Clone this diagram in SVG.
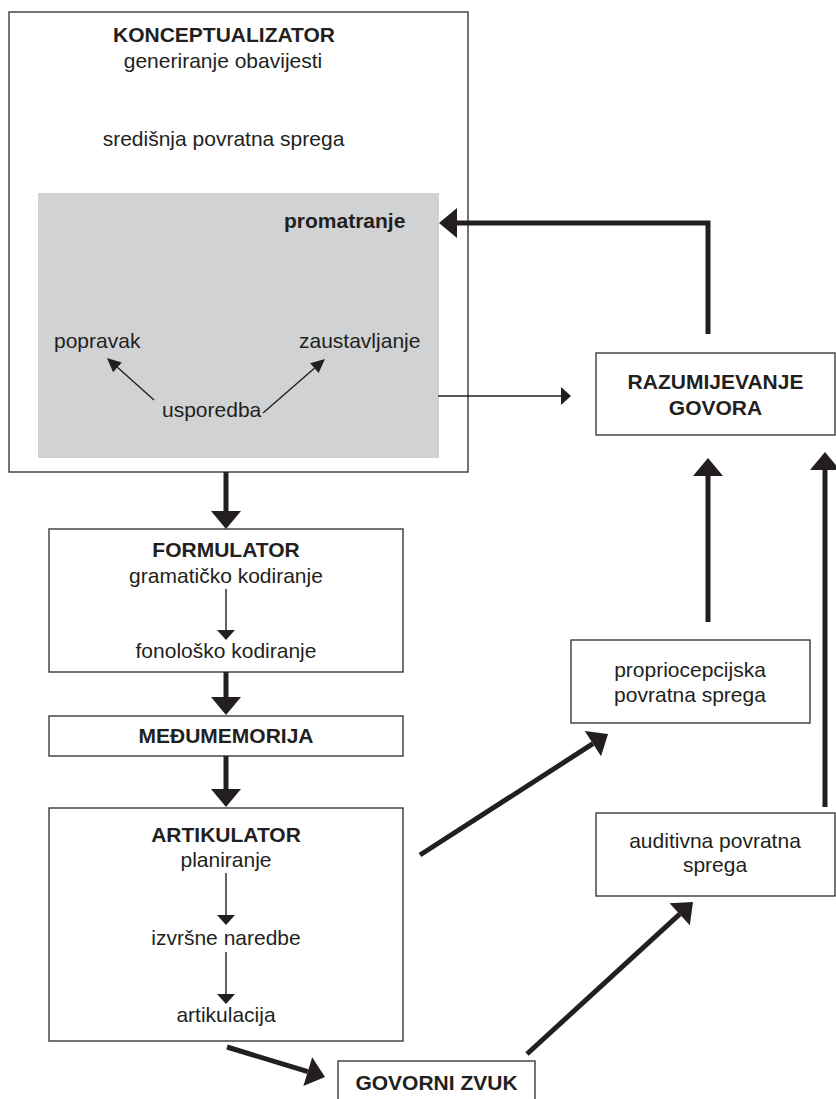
<svg xmlns="http://www.w3.org/2000/svg" width="836" height="1099" viewBox="0 0 836 1099">
<style>
text{font-family:"Liberation Sans",Arial,Helvetica,sans-serif;font-size:21px;fill:#231f20}
.b{font-weight:bold}
.m{text-anchor:middle}
.box{fill:#fff;stroke:#3a3a3a;stroke-width:1.4}
.thick{fill:none;stroke:#231f20;stroke-width:5}
.thin{fill:none;stroke:#231f20;stroke-width:1.4}
</style>
<defs>
<marker id="big" markerUnits="userSpaceOnUse" markerWidth="20" markerHeight="30" refX="0" refY="15" orient="auto" overflow="visible"><path d="M0,0 L18,15 L0,30 Z" fill="#231f20"/></marker>
<marker id="small" markerUnits="userSpaceOnUse" markerWidth="11" markerHeight="18" refX="0" refY="9" orient="auto" overflow="visible"><path d="M0,0 L10,9 L0,18 Z" fill="#231f20"/></marker>
<marker id="slim" markerUnits="userSpaceOnUse" markerWidth="15" markerHeight="13" refX="0" refY="6.5" orient="auto" overflow="visible"><path d="M0,0 L14,6.5 L0,13 Z" fill="#231f20"/></marker>
</defs>

<g id="konceptualizator">
<rect class="box" x="9" y="12" width="459" height="460"/>
<text class="b m" x="224" y="42">KONCEPTUALIZATOR</text>
<text class="m" x="223" y="68">generiranje obavijesti</text>
<text class="m" x="223.5" y="146">središnja povratna sprega</text>
</g>
<g id="promatranje">
<rect x="38" y="193" width="401" height="265" fill="#d1d2d4"/>
<text class="b" x="284" y="228">promatranje</text>
<text x="54" y="348">popravak</text>
<text x="299" y="348">zaustavljanje</text>
<text x="162" y="417">usporedba</text>
</g>
<g id="formulator">
<rect class="box" x="49" y="529" width="354" height="143"/>
<text class="b m" x="226" y="557">FORMULATOR</text>
<text class="m" x="226" y="583">gramatičko kodiranje</text>
<text class="m" x="226" y="658">fonološko kodiranje</text>
</g>
<g id="medumemorija">
<rect class="box" x="49" y="716" width="354" height="40"/>
<text class="b m" x="226" y="743">MEĐUMEMORIJA</text>
</g>
<g id="artikulator">
<rect class="box" x="49" y="808" width="354" height="233"/>
<text class="b m" x="226" y="842">ARTIKULATOR</text>
<text class="m" x="226" y="867">planiranje</text>
<text class="m" x="226" y="945">izvršne naredbe</text>
<text class="m" x="226" y="1022">artikulacija</text>
</g>
<g id="govorni-zvuk">
<rect class="box" x="338" y="1061" width="197" height="50"/>
<text class="b m" x="436.5" y="1090">GOVORNI ZVUK</text>
</g>
<g id="razumijevanje">
<rect class="box" x="596" y="353" width="239" height="82"/>
<text class="b m" x="715.5" y="389">RAZUMIJEVANJE</text>
<text class="b m" x="715.5" y="415">GOVORA</text>
</g>
<g id="propriocepcijska">
<rect class="box" x="571" y="640" width="239" height="83"/>
<text class="m" x="690" y="677">propriocepcijska</text>
<text class="m" x="690" y="702">povratna sprega</text>
</g>
<g id="auditivna">
<rect class="box" x="596" y="813" width="239" height="83"/>
<text class="m" x="715" y="848">auditivna povratna</text>
<text class="m" x="715" y="872">sprega</text>
</g>

<g id="connectors">
<path class="thin" d="M154,400 L117.4,367.3" marker-end="url(#slim)"/>
<path class="thin" d="M263,413 L314.4,368.2" marker-end="url(#slim)"/>
<path class="thin" d="M438,396 H561" marker-end="url(#small)"/>
<path class="thin" d="M226,589 V630" marker-end="url(#small)"/>
<path class="thin" d="M226,873 V915" marker-end="url(#small)"/>
<path class="thin" d="M226,952 V994" marker-end="url(#small)"/>
<path class="thick" d="M226,472 V511" marker-end="url(#big)"/>
<path class="thick" d="M226,672 V697" marker-end="url(#big)"/>
<path class="thick" d="M226,756 V789" marker-end="url(#big)"/>
<path class="thick" d="M227,1047 L307.8,1071.7" marker-end="url(#big)"/>
<path class="thick" d="M527,1054 L679.7,914.2" marker-end="url(#big)"/>
<path class="thick" d="M420,855 L592.9,743.7" marker-end="url(#big)"/>
<path class="thick" d="M708,622 V476" marker-end="url(#big)"/>
<path class="thick" d="M825,807 V470" marker-end="url(#big)"/>
<path class="thick" d="M708,334 V223 H457" marker-end="url(#big)"/>
</g>
</svg>
